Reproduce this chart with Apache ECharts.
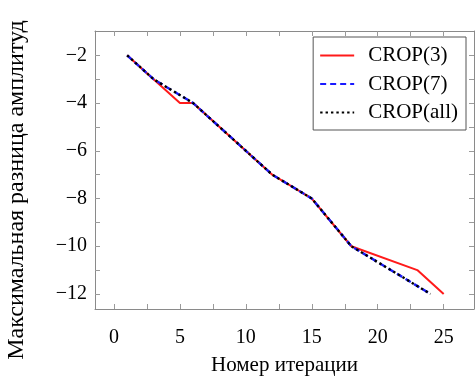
<!DOCTYPE html>
<html>
<head>
<meta charset="utf-8">
<script src="https://cdn.jsdelivr.net/npm/echarts@6/dist/echarts.min.js"></script>
<style>
  html, body { margin: 0; padding: 0; background: #fff; }
  #chart { width: 476px; height: 379px; }
</style>
</head>
<body>
<div id="chart"></div>
<script>
// data
const crop3X = [1, 3, 5, 6, 12, 15, 18, 23, 25];
const crop3Y = [-2, -3, -4, -4, -7, -8, -10, -11, -12];
const crop7X = [1, 3, 6, 12, 15, 18, 24];
const crop7Y = [-2, -3, -4, -7, -8, -10, -12];
const cropAllX = [1, 3, 6, 12, 15, 18, 24];
const cropAllY = [-2, -3, -4, -7, -8, -10, -12];

const xLabels = [0, 5, 10, 15, 20, 25];
const xTicks = [0, 2.5, 5, 7.5, 10, 12.5, 15, 17.5, 20, 22.5, 25];
const yLabels = [-12, -10, -8, -6, -4, -2];
const yTicks = [-12, -11, -10, -9, -8, -7, -6, -5, -4, -3, -2];

const serif = 'Liberation Serif';
const frame = '#8a8a8a';

const pairs = (xs, ys) => xs.map((x, i) => [x, ys[i]]);

const chart = echarts.init(document.getElementById('chart'), null, { renderer: 'canvas' });

const xBase = {
    type: 'value',
    min: -1.44,
    max: 27.3,
    axisLine: { onZero: false, lineStyle: { color: frame, width: 1 } },
    splitLine: { show: false },
    axisTick: { inside: true, length: 5, customValues: xTicks, lineStyle: { color: '#9a9a9a' } }
};
const yBase = {
    type: 'value',
    min: -12.63,
    max: -0.98,
    axisLine: { onZero: false, lineStyle: { color: frame, width: 1 } },
    splitLine: { show: false },
    axisTick: { inside: true, length: 5, customValues: yTicks, lineStyle: { color: '#9a9a9a' } }
};

const option = {
    backgroundColor: '#fff',
    animation: false,
    grid: { left: 95, right: 2, top: 31, bottom: 70, containLabel: false, outerBoundsMode: 'none' },
    legend: {
        orient: 'vertical',
        right: 10,
        top: 37,
        backgroundColor: '#fff',
        borderColor: '#555',
        borderWidth: 1,
        padding: [8, 8, 7, 6],
        itemWidth: 34,
        itemHeight: 14,
        itemGap: 7.5,
        itemStyle: { opacity: 0 },
        textStyle: { fontFamily: serif, fontSize: 21, color: '#000', padding: [0, 0, 0, 9] },
        data: ['CROP(3)', 'CROP(7)', 'CROP(all)']
    },
    xAxis: [
        Object.assign({}, xBase, {
            position: 'bottom',
            name: 'Номер итерации',
            nameLocation: 'middle',
            nameGap: 46,
            nameTextStyle: { fontFamily: serif, fontSize: 21, color: '#000' },
            axisLabel: {
                customValues: xLabels,
                margin: 19,
                fontFamily: serif,
                fontSize: 20,
                color: '#000'
            }
        }),
        Object.assign({}, xBase, {
            position: 'top',
            axisLabel: { show: false }
        })
    ],
    yAxis: [
        Object.assign({}, yBase, {
            position: 'left',
            name: 'Максимальная разница амплитуд',
            nameLocation: 'middle',
            nameGap: 66,
            nameTextStyle: { fontFamily: serif, fontSize: 24, color: '#000', padding: [0, 40, 0, 0] },
            axisLabel: {
                customValues: yLabels,
                margin: 8,
                fontFamily: serif,
                fontSize: 20,
                color: '#000',
                formatter: v => String(v).replace('-', '\u2212')
            }
        }),
        Object.assign({}, yBase, {
            position: 'right',
            axisLabel: { show: false }
        })
    ],
    series: [
        {
            name: 'CROP(3)',
            type: 'line',
            symbol: 'none',
            data: pairs(crop3X, crop3Y),
            itemStyle: { color: '#ff1a1a' },
            lineStyle: { color: '#ff1a1a', width: 2 }
        },
        {
            name: 'CROP(7)',
            type: 'line',
            symbol: 'none',
            data: pairs(crop7X, crop7Y),
            itemStyle: { color: '#1a1aff' },
            lineStyle: { color: '#1a1aff', width: 2.4, type: [6, 4] }
        },
        {
            name: 'CROP(all)',
            type: 'line',
            symbol: 'none',
            data: pairs(cropAllX, cropAllY),
            itemStyle: { color: '#000' },
            lineStyle: { color: '#000', width: 2.4, type: [2.4, 3] }
        }
    ]
};

chart.setOption(option);
</script>
</body>
</html>
